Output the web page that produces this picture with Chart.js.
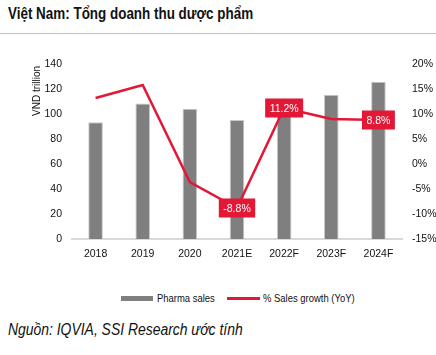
<!DOCTYPE html>
<html><head><meta charset="utf-8">
<script src="https://cdn.jsdelivr.net/npm/chart.js@4/dist/chart.umd.min.js"></script>
<style>
html,body{margin:0;padding:0;background:#fff;width:436px;height:355px;overflow:hidden;position:relative;font-family:"Liberation Sans",Arial,sans-serif;}
#title{position:absolute;left:8px;top:4px;font-size:17px;font-weight:bold;color:#111;white-space:nowrap;transform:scaleX(0.79);transform-origin:0 0;}
#rule{position:absolute;left:0;top:33px;width:436px;height:1px;background:#bfbfbf;}
#wrap{position:absolute;left:0;top:36px;width:460px;height:255px;}
#legend{position:absolute;top:291px;left:0;width:436px;height:14px;font-size:11px;color:#111;}
.lg{position:absolute;top:0;line-height:14px;white-space:nowrap;transform:scaleX(0.86);transform-origin:0 0;}
#source{position:absolute;left:8px;top:321px;font-size:16px;font-style:italic;color:#111;white-space:nowrap;transform:scaleX(0.87);transform-origin:0 0;}
</style></head>
<body>
<div id="title">Việt Nam: Tổng doanh thu dược phẩm</div>
<div id="rule"></div>
<div id="wrap"><canvas id="c" width="460" height="255"></canvas></div>
<div id="legend">
  <div style="position:absolute;left:121px;top:5px;width:32px;height:5px;background:#7f7f7f"></div>
  <div class="lg" style="left:157px">Pharma sales</div>
  <div style="position:absolute;left:227px;top:6px;width:33px;height:3px;background:#e31837"></div>
  <div class="lg" style="left:263px">% Sales growth (YoY)</div>
</div>
<div id="source">Nguồn: IQVIA, SSI Research ước tính</div>
<script>
const categories = ["2018","2019","2020","2021E","2022F","2023F","2024F"];
const pharmaSales = [93.4, 108.5, 104.2, 95.2, 106, 115.4, 125.8];
const salesGrowth = [13.2, 15.8, -3.6, -8.8, 11.2, 9.0, 8.8];
const labelledPoints = [3, 4, 6];
const leftTicks = [0,20,40,60,80,100,120,140];
const rightTicks = [-15,-10,-5,0,5,10,15,20];

const FONT = "'Liberation Sans',Arial,sans-serif";

const labelPlugin = {
  id: 'labelBoxes',
  afterDatasetsDraw(chart) {
    const ctx = chart.ctx;
    const meta = chart.getDatasetMeta(0);
    ctx.save();
    ctx.font = "10.5px " + FONT;
    ctx.textAlign = 'center';
    ctx.textBaseline = 'middle';
    labelledPoints.forEach(i => {
      const p = meta.data[i];
      const txt = salesGrowth[i].toFixed(1) + '%';
      const w = ctx.measureText(txt).width + 9;
      const h = 19;
      ctx.fillStyle = '#e31837';
      ctx.fillRect(p.x - w/2, p.y - h/2, w, h);
      ctx.fillStyle = '#ffffff';
      ctx.fillText(txt, p.x, p.y + 1);
    });
    ctx.restore();
    ctx.save();
    ctx.translate(37, 55);
    ctx.rotate(-Math.PI/2);
    ctx.font = "10px " + FONT;
    ctx.textAlign = 'center';
    ctx.textBaseline = 'middle';
    ctx.fillStyle = '#111';
    ctx.fillText('VND trillion', 0, 0);
    ctx.restore();
  }
};

new Chart(document.getElementById('c'), {
  data: {
    labels: categories,
    datasets: [
      { type:'line', label:'% Sales growth (YoY)', data: salesGrowth, yAxisID:'y2',
        borderColor:'#e31837', borderWidth:2.5, pointRadius:0, tension:0, order:0 },
      { type:'bar', label:'Pharma sales', data: pharmaSales, yAxisID:'y',
        backgroundColor:'#7f7f7f', borderColor:'#c8c8c8', borderWidth:{top:1,left:1,right:1,bottom:0},
        barPercentage:0.62, categoryPercentage:0.5, order:1 }
    ]
  },
  options: {
    responsive:false, animation:false,
    layout:{padding:{top:28,left:0,right:0,bottom:0}},
    plugins:{legend:{display:false}, tooltip:{enabled:false}},
    scales:{
      x:{ grid:{display:false, drawTicks:false}, border:{display:true,color:'#d9d9d9',width:2},
          ticks:{color:'#111', font:{family:FONT,size:10.5}, padding:9},
          afterFit(s){ s.height = 52; } },
      y:{ position:'left', min:0, max:140, grid:{display:false, drawTicks:false}, border:{display:false},
          afterBuildTicks(s){ s.ticks = leftTicks.map(v=>({value:v})); },
          ticks:{color:'#111', font:{family:FONT,size:10.5}, padding:10},
          afterFit(s){ s.width = 72; } },
      y2:{ position:'right', min:-15, max:20, grid:{display:false, drawTicks:false}, border:{display:false},
          afterBuildTicks(s){ s.ticks = rightTicks.map(v=>({value:v})); },
          ticks:{color:'#111', font:{family:FONT,size:10.5}, padding:10, callback:v=>v+'%'},
          afterFit(s){ s.width = 58; } }
    }
  },
  plugins:[labelPlugin]
});
</script>
</body></html>
